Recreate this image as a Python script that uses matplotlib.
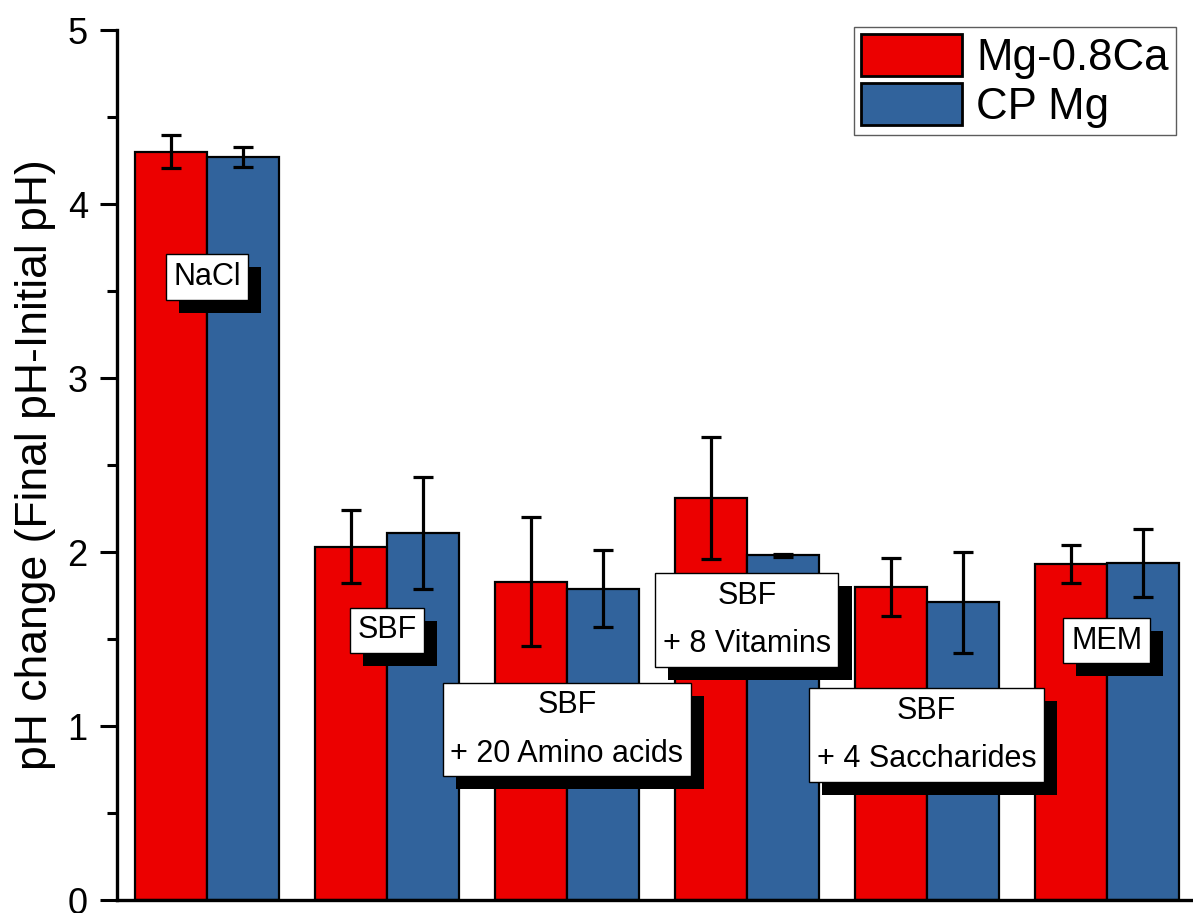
import matplotlib
matplotlib.use("Agg")
import matplotlib.pyplot as plt
import matplotlib.patheffects as pe
from matplotlib.ticker import MultipleLocator
import numpy as np

plt.rcParams['font.family'] = ['Liberation Sans', 'DejaVu Sans']

categories = ['NaCl', 'SBF', 'SBF\n+ 20 Amino acids', 'SBF\n+ 8 Vitamins',
              'SBF\n+ 4 Saccharides', 'MEM']
mg08ca = [4.30, 2.03, 1.83, 2.31, 1.80, 1.93]
mg08ca_err = [0.095, 0.21, 0.37, 0.35, 0.165, 0.11]
cpmg = [4.27, 2.11, 1.79, 1.98, 1.71, 1.935]
cpmg_err = [0.06, 0.32, 0.22, 0.01, 0.29, 0.195]
label_y = [3.58, 1.55, 0.98, 1.61, 0.95, 1.49]
series_names = ['Mg-0.8Ca', 'CP Mg']

red = '#EC0000'
blue = '#31639C'

fig = plt.figure(figsize=(11.93, 9.13), dpi=100)
ax = fig.add_axes([117/1193, 13/913, (1193-117)/1193, 870/913])

x = np.arange(len(categories))
w = 0.4
ekw = dict(elinewidth=2.3, capsize=7.2, capthick=2.3, ecolor='black')
ax.bar(x - w/2, mg08ca, w, yerr=mg08ca_err, color=red, edgecolor='black',
       linewidth=1.6, error_kw=ekw, label=series_names[0], zorder=2)
ax.bar(x + w/2, cpmg, w, yerr=cpmg_err, color=blue, edgecolor='black',
       linewidth=1.6, error_kw=ekw, label=series_names[1], zorder=2)

for xi, yi, lab in zip(x, label_y, categories):
    t = ax.text(xi, yi, lab, ha='center', va='center', fontsize=22,
                linespacing=1.8, multialignment='center', zorder=6,
                bbox=dict(boxstyle='square,pad=0.25', fc='white', ec='black', lw=1.0))
    t.get_bbox_patch().set_path_effects([
        pe.SimplePatchShadow(offset=(9.4, -9.4), shadow_rgbFace='black', alpha=1.0),
        pe.Normal()])

ax.set_xlim(-0.5, 5.48)
ax.set_ylim(0, 5)
ax.set_xticks([])
ax.yaxis.set_major_locator(MultipleLocator(1))
ax.yaxis.set_minor_locator(MultipleLocator(0.5))
ax.tick_params(axis='y', which='major', direction='out', length=12, width=2.2,
               labelsize=26, pad=9)
ax.tick_params(axis='y', which='minor', direction='out', length=7, width=2.2)
for s in ['top', 'right']:
    ax.spines[s].set_visible(False)
for s in ['left', 'bottom']:
    ax.spines[s].set_linewidth(2.4)

ax.set_ylabel('pH change (Final pH-Initial pH)', fontsize=32, labelpad=8)

leg = ax.legend(loc='upper right', bbox_to_anchor=(1176/1193, 1 - 27/913),
                bbox_transform=fig.transFigure, fontsize=31.5, frameon=True,
                fancybox=False, edgecolor='#333333', handlelength=2.29,
                handleheight=1.1, handletextpad=0.34, labelspacing=0.1,
                borderpad=0.16, borderaxespad=0.0)
leg.get_frame().set_linewidth(1.0)
for h in leg.legend_handles:
    h.set_linewidth(2.0)

fig.savefig('out.png', dpi=100)
